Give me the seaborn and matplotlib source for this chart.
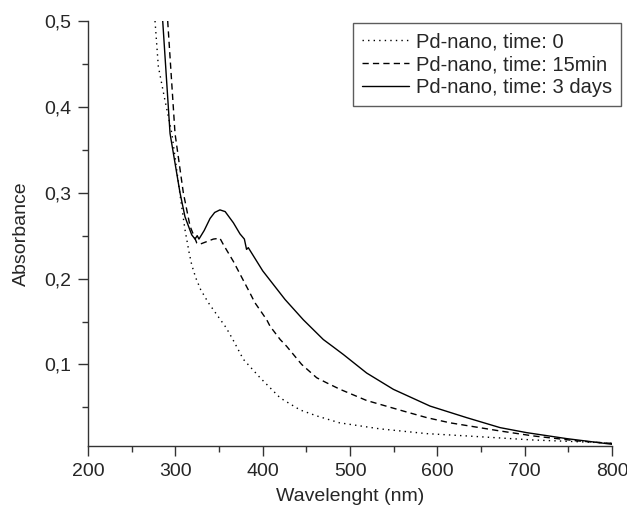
import matplotlib
matplotlib.use('Agg')
import matplotlib.pyplot as plt
import seaborn as sns
import pandas as pd
from matplotlib.ticker import MultipleLocator, FuncFormatter

# Pd-nano, time: 0
comp_onda_t0 = [276.7, 280.5, 288, 296, 305, 311, 315.6, 318.7, 323.3, 329, 337.7, 347.4,
                358, 365.3, 377.8, 397, 420, 442.8, 462, 488, 534, 588, 634, 710, 786, 800]
abs_t0 = [0.5, 0.447, 0.408, 0.369, 0.300, 0.257, 0.231, 0.216, 0.201, 0.187, 0.172, 0.158,
          0.143, 0.130, 0.106, 0.0845, 0.061, 0.047, 0.040, 0.032, 0.025, 0.0194, 0.0167,
          0.012, 0.009, 0.008]

# Pd-nano, time: 15min
comp_onda_15 = [291.2, 299.6, 309.1, 316.8, 324.5, 328, 343.5, 351, 355, 366.4, 385.5, 391,
                404.6, 408.4, 420, 427.5, 444.6, 461.8, 473, 488.6, 519, 561, 588, 614.5,
                671.8, 710, 759.6, 800]
abs_15 = [0.5, 0.369, 0.30, 0.261, 0.2415, 0.240, 0.246, 0.247, 0.2395, 0.220, 0.183, 0.172,
          0.152, 0.1445, 0.129, 0.121, 0.100, 0.0845, 0.0787, 0.071, 0.058, 0.0457, 0.038,
          0.032, 0.0225, 0.0167, 0.011, 0.008]

# Pd-nano, time: 3 days
comp_onda_3d = [285.5, 293.9, 305.3, 311, 318.7, 322.5, 325, 327, 333, 339.7, 345, 351, 357,
                366.4, 374, 379, 381.5, 383.5, 400, 425.6, 446.5, 469.4, 480, 492.3, 519,
                549.6, 591.6, 633.6, 671.8, 702, 748, 800]
abs_3d = [0.5, 0.369, 0.300, 0.272, 0.251, 0.246, 0.250, 0.246, 0.256, 0.270, 0.277, 0.280,
          0.278, 0.265, 0.252, 0.246, 0.234, 0.236, 0.209, 0.1756, 0.152, 0.129, 0.121,
          0.1116, 0.090, 0.071, 0.0515, 0.038, 0.0264, 0.0206, 0.0136, 0.007]

rotulos = ['Pd-nano, time: 0', 'Pd-nano, time: 15min', 'Pd-nano, time: 3 days']
estilos = [(0, (1, 3)), (0, (4.5, 3)), '-']

sns.set_style('ticks')
plt.rcParams['font.family'] = ['Liberation Sans', 'DejaVu Sans']

fig = plt.figure(figsize=(6.27, 5.07), dpi=100)
ax = fig.add_axes([0.1404, 0.1203, 0.8358, 0.8383])

series = [(comp_onda_t0, abs_t0), (comp_onda_15, abs_15), (comp_onda_3d, abs_3d)]
for (x, y), rotulo, estilo in zip(series, rotulos, estilos):
    df = pd.DataFrame({'x': x, 'y': y})
    sns.lineplot(data=df, x='x', y='y', ax=ax, color='black', linewidth=1,
                 linestyle=estilo, label=rotulo, estimator=None)

ax.set_xlim(200, 800)
ax.set_ylim(0.005, 0.5)
ax.xaxis.set_major_locator(MultipleLocator(100))
ax.xaxis.set_minor_locator(MultipleLocator(50))
ax.yaxis.set_major_locator(MultipleLocator(0.1))
ax.yaxis.set_minor_locator(MultipleLocator(0.05))
ax.yaxis.set_major_formatter(FuncFormatter(lambda v, p: f'{v:.1f}'.replace('.', ',')))

ax.tick_params(which='major', direction='out', length=7, width=1, labelsize=14,
               color='#333333', pad=5)
ax.tick_params(which='minor', direction='out', length=4, width=1, color='#333333')

sns.despine(ax=ax)
for lado in ['left', 'bottom']:
    ax.spines[lado].set_color('#333333')
    ax.spines[lado].set_linewidth(1)

ax.set_xlabel('Wavelenght (nm)', fontsize=14, labelpad=6)
ax.set_ylabel('Absorbance', fontsize=14, labelpad=10)

leg = ax.legend(loc='upper right', bbox_to_anchor=(1.017, 0.995), borderaxespad=0,
                fontsize=14.5, frameon=True, fancybox=False, handlelength=2.3,
                handletextpad=0.35, labelspacing=0.2, borderpad=0.45)
leg.get_frame().set_edgecolor('#333333')
leg.get_frame().set_linewidth(1)

fig.savefig('out.png', dpi=100)
